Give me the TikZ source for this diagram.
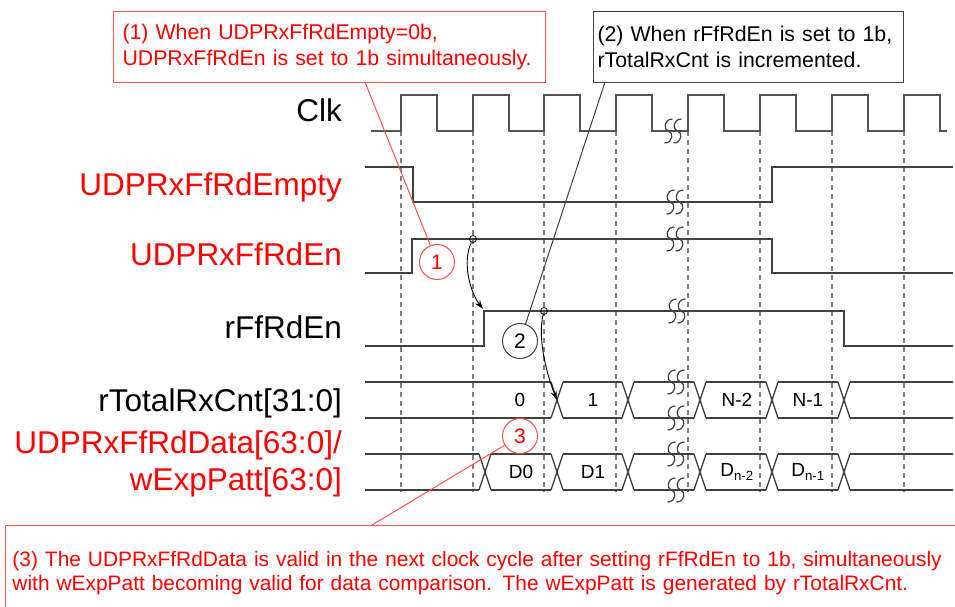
\documentclass[tikz,border=0pt]{standalone}
\usepackage{fontspec}
\setmainfont{Liberation Sans}
\usetikzlibrary{arrows.meta}
\definecolor{sigc}{HTML}{404040}
\definecolor{callred}{HTML}{FF5050}

\begin{document}
\begin{tikzpicture}[
x=1pt,y=-1pt,
sig/.style={draw=sigc,line width=1.3pt},
clk/.style={draw=sigc!90,line width=1.8pt},
grd/.style={draw=gray,line width=1.2pt,dash pattern=on 5pt off 4pt},
lbl/.style={anchor=base east,inner sep=0pt,font=\fontsize{31.5}{37}\selectfont},
val/.style={inner sep=0pt,font=\fontsize{19}{22}\selectfont},
note/.style={draw,anchor=north west,align=left,inner xsep=9pt,font=\fontsize{21.3}{26}\selectfont},
num/.style={circle,draw,line width=1pt,minimum size=35pt,inner sep=0pt,font=\fontsize{21}{24}\selectfont},
dot/.style={circle,draw=black,line width=0.8pt,minimum size=7pt,inner sep=0pt},
cur/.style={-{Stealth[length=9pt,width=6pt]},line width=0.9pt},
brk/.pic={
  \foreach \s in {-4.5,4.5}
    \draw[sigc,line width=1.2pt] ({\s+4},-12) .. controls ({\s-5},-12) and ({\s-5},-1) .. (\s,0)
      .. controls ({\s+5},1) and ({\s+5},12) .. ({\s-4},12);
}
]
\useasboundingbox (0,0) rectangle (955,606);

\foreach \x in {401,473,544,616,688,760,832,904}
  \draw[grd] (\x,131) -- (\x,492);

\node[lbl] (lclk) at (342,121) {Clk};
\node[lbl,red] (lempty) at (342,195) {UDPRxFfRdEmpty};
\node[lbl,red] (len) at (342,265) {UDPRxFfRdEn};
\node[lbl] (lrden) at (342,338) {rFfRdEn};
\node[lbl] (lcnt) at (342,411) {rTotalRxCnt[31:0]};
\node[lbl,red,align=right] (ldata) at (342,490) {UDPRxFfRdData[63:0]/\\wExpPatt[63:0]};

\draw[clk] (371,131) foreach \x in {401,473,544,616,688,760,832,904} {
  -- (\x,131) -- (\x,95) -- ({\x+36},95) -- ({\x+36},131) } -- (947,131);
\draw[sig] (365,167) -- (413,167) -- (413,202) -- (772,202) -- (772,167) -- (953,167);
\draw[sig] (365,273) -- (412,273) -- (412,239) -- (772,239) -- (772,273) -- (953,273);
\draw[sig] (365,346) -- (484,346) -- (484,311) -- (844,311) -- (844,346) -- (953,346);

\foreach \a/\b in {365/551,563/622,634/694,706/766,778/838,850/953}
  \draw[sig] (\a,382) -- (\b,382) (\a,418) -- (\b,418);
\foreach \x in {557,628,700,772,844}
  \draw[sig] ({\x-6},382) -- ({\x+6},418) ({\x-6},418) -- ({\x+6},382);
\foreach \a/\b in {365/479,491/551,563/622,634/694,706/766,778/838,850/953}
  \draw[sig] (\a,454) -- (\b,454) (\a,490) -- (\b,490);
\foreach \x in {485,557,628,700,772,844}
  \draw[sig] ({\x-6},454) -- ({\x+6},490) ({\x-6},490) -- ({\x+6},454);

\foreach \x/\y in {673/131,675/202,675/239,677/311,676/382,676/418,676/454,676/490}
  \pic at (\x,\y) {brk};

\node[val] (v0) at (520,400) {0};
\node[val] (v1) at (593,400) {1};
\node[val] (vn2) at (737,400) {N-2};
\node[val] (vn1) at (808,400) {N-1};
\node[val] (d0) at (521,472) {D0};
\node[val] (d1) at (593,472) {D1};
\node[val] (dn2) at (737,472) {D\textsubscript{n-2}};
\node[val] (dn1) at (808,472) {D\textsubscript{n-1}};

\node[dot] (s1) at (473,239) {};
\node[dot] (s2) at (544,311) {};
\coordinate (e1) at (483,309);
\coordinate (e2) at (557,400);
\draw[cur] (s1) .. controls (462,262) and (470,292) .. (e1);
\draw[cur] (s2) .. controls (537,340) and (548,378) .. (e2);

\node[note,draw=callred,line width=1pt,text=red,text width=414pt,minimum height=71pt] (box1) at (113,11)
  {(1) When UDPRxFfRdEmpty=0b,\\UDPRxFfRdEn is set to 1b simultaneously.};
\node[note,draw=sigc,line width=1pt,text width=302pt,inner xsep=4pt,minimum height=71pt] (box2) at (593,11)
  {(2) When rFfRdEn is set to 1b,\\rTotalRxCnt is incremented.};
\node[note,draw=callred,line width=1pt,text=red,text width=945pt,inner xsep=7pt,inner ysep=26pt,
  font=\fontsize{20.9}{23.5}\selectfont] (box3) at (5,525)
  {(3) The UDPRxFfRdData is valid in the next clock cycle after setting rFfRdEn to 1b, simultaneously\\
   with wExpPatt becoming valid for data comparison. The wExpPatt is generated by rTotalRxCnt.};

\node[num,draw=callred,text=red] (c1) at (437,262) {1};
\node[num,draw=sigc] (c2) at (520,341) {2};
\node[num,draw=callred,text=red] (c3) at (520,436) {3};

\coordinate (p1) at (365,82);
\coordinate (p2) at (605,82);
\coordinate (p3) at (372,525);
\draw[callred,line width=1pt] (p1) -- (c1);
\draw[sigc,line width=1pt] (p2) -- (c2);
\draw[callred,line width=1pt] (c3) -- (p3);
\end{tikzpicture}
\end{document}
